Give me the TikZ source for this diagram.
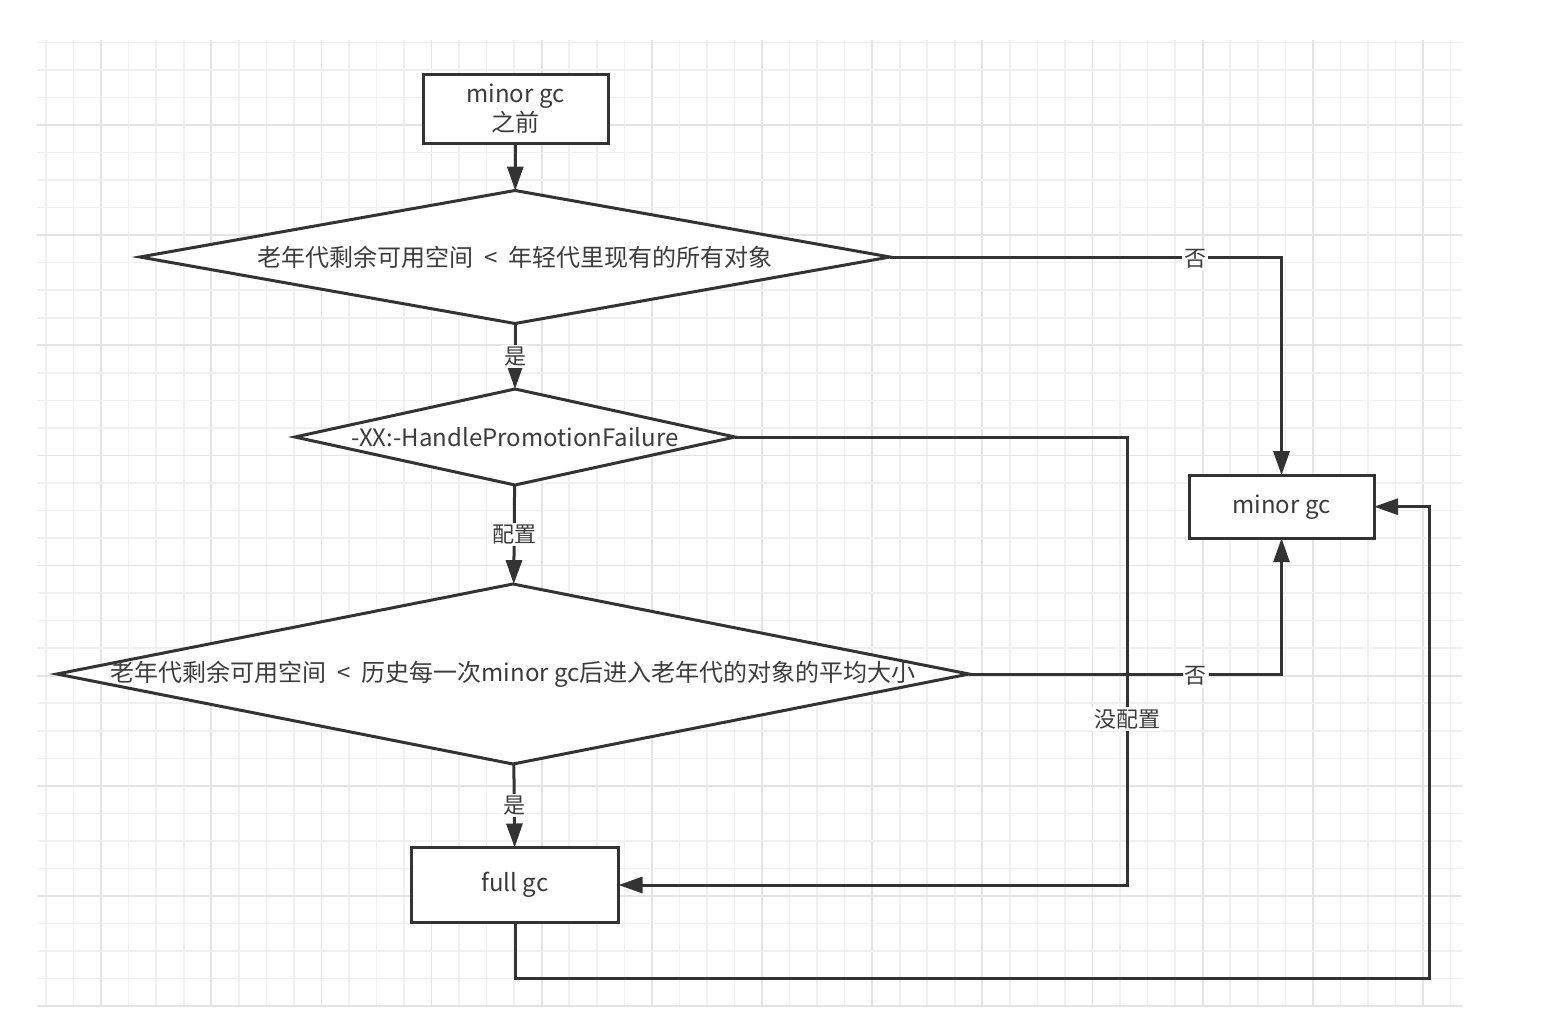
\documentclass[tikz,border=0pt]{standalone}
\usepackage{fontspec}
\setmainfont{Noto Sans CJK SC}
\usetikzlibrary{shapes.geometric,arrows.meta}
\definecolor{ink}{HTML}{333333}
\definecolor{textink}{HTML}{3C3C3C}
\definecolor{gridminor}{HTML}{F0F0F0}
\definecolor{gridmajor}{HTML}{E4E4E4}
\newcommand{\lessgap}{\hspace{11pt}<\hspace{11pt}}

\begin{document}
\begin{tikzpicture}[x=1pt,y=-1pt,
  minorgrid/.style={draw=gridminor, line width=1.6pt},
  majorgrid/.style={draw=gridmajor, line width=1.8pt},
  procbox/.style={draw=ink, line width=3pt, fill=white, inner sep=0pt, outer sep=0pt,
    text=textink, align=center, font=\fontsize{24}{29}\selectfont},
  decision/.style={diamond, draw=ink, line width=3pt, fill=white, inner sep=0pt, outer sep=0pt},
  dtext/.style={text=textink, inner sep=0pt, font=\fontsize{24}{29}\selectfont},
  conn/.style={draw=ink, line width=3pt, -{Triangle[length=24pt,width=16pt]}},
  elabel/.style={fill=white, text=textink, inner sep=2pt, font=\fontsize{22}{26}\selectfont}
]
% page and grid paper
\fill[white] (0,0) rectangle (1557,1010);
\useasboundingbox (0,0) rectangle (1557,1010);
\begin{scope}
  \clip (37,40) rectangle (1462,1006);
  \foreach \k in {0,...,51}{
    \pgfmathsetmacro\gx{46+27.54*\k}
    \pgfmathtruncatemacro\m{mod(\k+2,4)}
    \ifnum\m=0 \draw[majorgrid] (\gx,40) -- (\gx,1006);
    \else \draw[minorgrid] (\gx,40) -- (\gx,1006); \fi
  }
  \foreach \k in {0,...,35}{
    \pgfmathsetmacro\gy{42.3+27.54*\k}
    \pgfmathtruncatemacro\m{mod(\k+1,4)}
    \ifnum\m=0 \draw[majorgrid] (37,\gy) -- (1462,\gy);
    \else \draw[minorgrid] (37,\gy) -- (1462,\gy); \fi
  }
\end{scope}

% process boxes
\node[procbox, minimum width=185pt, minimum height=69pt] (start) at (515.5,108.5) {minor gc\\之前};
\node[procbox, minimum width=185pt, minimum height=63pt] (mgc) at (1281.5,506.7) {minor gc};
\node[procbox, minimum width=207pt, minimum height=75pt] (full) at (515,885) {full gc};

% decisions
\node[decision, minimum width=750pt, minimum height=133pt] (d1) at (515,257) {};
\node[dtext] (d1t) at (d1.center) {老年代剩余可用空间\lessgap 年轻代里现有的所有对象};
\node[decision, minimum width=440pt, minimum height=96pt] (d2) at (515,437) {};
\node[dtext] (d2t) at (d2.center) {-XX:-HandlePromotionFailure};
\node[decision, minimum width=912pt, minimum height=180pt] (d3) at (513,674) {};
\node[dtext] (d3t) at (d3.center) {老年代剩余可用空间\lessgap 历史每一次minor gc后进入老年代的对象的平均大小};

% routing points
\coordinate (jnc) at (1127,885);
\coordinate (loop) at (1429,978);

% connectors
\draw[conn] (start) -- (d1);
\draw[conn] (d1) -- node[elabel] (l1) {是} (d2);
\draw[conn] (d2) -- node[elabel] (l2) {配置} (d3);
\draw[conn] (d3) -- node[elabel] (l3) {是} (full);
\draw[conn] (d1.east) -| node[elabel, pos=0.39, yshift=-2pt] (l4) {否} (mgc.north);
\draw[conn] (d3.east) -| node[elabel, pos=0.363, yshift=-2pt] (l5) {否} (mgc.south);
\draw[conn] (d2.east) -| node[elabel, pos=0.815] (l6) {没配置} (jnc) -- (full.east);
\draw[conn] (full.south) |- (loop) |- (mgc.east);
\end{tikzpicture}
\end{document}
